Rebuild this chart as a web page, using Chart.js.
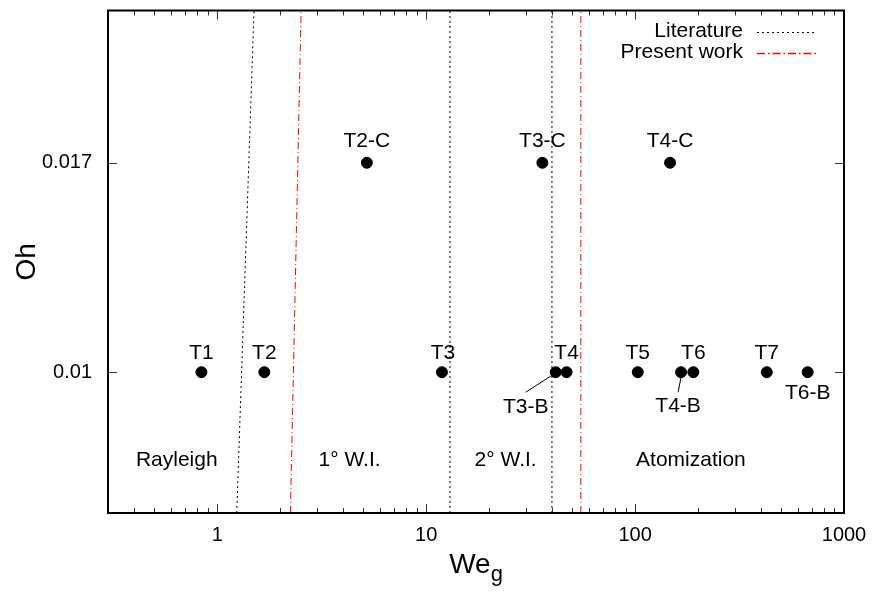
<!DOCTYPE html>
<html>
<head>
<meta charset="utf-8">
<script src="https://cdn.jsdelivr.net/npm/chart.js@4.4.1/dist/chart.umd.min.js"></script>
<style>
  html, body { margin: 0; padding: 0; background: #fff; }
  canvas { display: block; }
</style>
</head>
<body>
<canvas id="regime" width="874" height="593"></canvas>
<script>
// Test cases: gas Weber number and Ohnesorge number
const caseNames = ['T1', 'T2', 'T3', 'T4', 'T5', 'T6', 'T7', 'T2-C', 'T3-C', 'T4-C', 'T3-B', 'T4-B', 'T6-B'];
const caseWe    = [0.84, 1.68, 11.9, 47, 103, 190, 427, 5.2, 36, 147, 41.7, 166, 670];
const caseOh    = [0.01, 0.01, 0.01, 0.01, 0.01, 0.01, 0.01, 0.017, 0.017, 0.017, 0.01, 0.01, 0.01];

// Regime boundaries (Oh spans the full axis range)
const ohRange = [0.007, 0.025];
const literatureRayleighWe = [1.24, 1.50];
const literatureFirstWiWe = 13;
const literatureSecondWiWe = 40;
const presentRayleighWe = [2.24, 2.52];
const presentAtomizationWe = 55;

// Regime names
const regionNames = ['Rayleigh', '1° W.I.', '2° W.I.', 'Atomization'];
const regionWe = [0.64, 4.3, 24, 185];
const regionOh = [0.008, 0.008, 0.008, 0.008];

// Axis ticks
const xTickValues = [1, 10, 100, 1000];
const yTickValues = [0.01, 0.017];
const yTickLabels = ['0.01', '0.017'];

const FONT = '"Liberation Sans", Arial, Helvetica, sans-serif';

const LIT_COLOR = '#000000';
const LIT_DASH = [2, 3];
const PRES_COLOR = '#ff0000';
const PRES_DASH = [7, 3, 1, 3];

function vline(we) {
  return [{ x: we, y: ohRange[0] }, { x: we, y: ohRange[1] }];
}
function sline(pair) {
  return [{ x: pair[0], y: ohRange[0] }, { x: pair[1], y: ohRange[1] }];
}
function boundary(label, data, color, dash) {
  return { label, data, borderColor: color, borderWidth: 1, borderDash: dash.slice(),
           showLine: true, pointRadius: 0, fill: false };
}

const datasets = [
  boundary('Literature', sline(literatureRayleighWe), LIT_COLOR, LIT_DASH),
  boundary('Literature', vline(literatureFirstWiWe), LIT_COLOR, LIT_DASH),
  boundary('Literature', vline(literatureSecondWiWe), LIT_COLOR, LIT_DASH),
  boundary('Present work', sline(presentRayleighWe), PRES_COLOR, PRES_DASH),
  boundary('Present work', vline(presentAtomizationWe), PRES_COLOR, PRES_DASH),
  {
    label: 'cases',
    data: caseWe.map((w, i) => ({ x: w, y: caseOh[i] })),
    backgroundColor: '#000',
    borderColor: '#000',
    pointRadius: 5.5,
    pointHoverRadius: 5.5,
    showLine: false
  }
];

// Where each case label sits relative to its marker (pixels), and optional leader line
const labelPlacement = {
  'T1': [0, -19], 'T2': [0, -19], 'T3': [1, -19], 'T4': [0, -19], 'T5': [0, -19],
  'T6': [0, -19], 'T7': [0, -19],
  'T2-C': [0, -22], 'T3-C': [0, -22], 'T4-C': [0, -22],
  'T3-B': [-30, 35, [-30, 20], [-2, 2]],
  'T4-B': [-3, 34, [-3, 20], [0, 5]],
  'T6-B': [0, 21]
};

const decorations = {
  id: 'decorations',
  afterDraw(chart) {
    const ctx = chart.ctx;
    const a = chart.chartArea;
    const xs = chart.scales.x, ys = chart.scales.y;
    ctx.save();

    // inward ticks on all four sides
    ctx.strokeStyle = '#333';
    ctx.lineWidth = 1;
    ctx.beginPath();
    for (let d = -1; d <= 3; d++) {
      for (let k = 1; k <= 9; k++) {
        const v = k * Math.pow(10, d);
        if (v < xs.min - 1e-9 || v > xs.max + 1e-9) continue;
        const px = Math.round(xs.getPixelForValue(v)) + 0.5;
        const len = k === 1 ? 9 : 5;
        ctx.moveTo(px, a.bottom); ctx.lineTo(px, a.bottom - len);
        ctx.moveTo(px, a.top); ctx.lineTo(px, a.top + len);
      }
    }
    yTickValues.forEach(v => {
      const py = Math.round(ys.getPixelForValue(v)) + 0.5;
      ctx.moveTo(a.left, py); ctx.lineTo(a.left + 9, py);
      ctx.moveTo(a.right, py); ctx.lineTo(a.right - 9, py);
    });
    ctx.stroke();

    // frame
    ctx.strokeStyle = '#000';
    ctx.lineWidth = 2;
    ctx.strokeRect(a.left, a.top, a.right - a.left, a.bottom - a.top);

    // case labels
    ctx.fillStyle = '#000';
    ctx.font = '21px ' + FONT;
    ctx.textAlign = 'center';
    ctx.textBaseline = 'middle';
    const meta = chart.getDatasetMeta(5);
    meta.data.forEach((pt, i) => {
      const name = caseNames[i];
      const p = labelPlacement[name];
      ctx.fillText(name, pt.x + p[0], pt.y + p[1]);
      if (p[2]) {
        ctx.strokeStyle = '#000';
        ctx.lineWidth = 1;
        ctx.beginPath();
        ctx.moveTo(pt.x + p[2][0], pt.y + p[2][1]);
        ctx.lineTo(pt.x + p[3][0], pt.y + p[3][1]);
        ctx.stroke();
      }
    });

    // regime names
    regionNames.forEach((n, i) => {
      ctx.fillText(n, xs.getPixelForValue(regionWe[i]), ys.getPixelForValue(regionOh[i]));
    });

    // legend (top right, text right-aligned, sample to its right)
    const legendItems = [
      { text: 'Literature', color: LIT_COLOR, dash: LIT_DASH, width: 1 },
      { text: 'Present work', color: PRES_COLOR, dash: [8, 3, 1.5, 3], width: 1.5 }
    ];
    ctx.textAlign = 'right';
    legendItems.forEach((it, i) => {
      const y = a.top + 21 + i * 21;
      ctx.fillStyle = '#000';
      ctx.fillText(it.text, a.right - 101, y);
      ctx.save();
      ctx.strokeStyle = it.color;
      ctx.lineWidth = it.width;
      ctx.setLineDash(it.dash);
      ctx.beginPath();
      ctx.moveTo(a.right - 87, Math.round(y) + 0.5);
      ctx.lineTo(a.right - 27, Math.round(y) + 0.5);
      ctx.stroke();
      ctx.restore();
    });

    // axis titles
    ctx.fillStyle = '#000';
    ctx.textBaseline = 'alphabetic';
    ctx.textAlign = 'left';
    const cx = (a.left + a.right) / 2;
    ctx.font = '28px ' + FONT;
    const wWe = ctx.measureText('We').width;
    ctx.font = '22px ' + FONT;
    const wg = ctx.measureText('g').width;
    const x0 = cx - (wWe + wg) / 2;
    ctx.font = '28px ' + FONT;
    ctx.fillText('We', x0, 573);
    ctx.font = '22px ' + FONT;
    ctx.fillText('g', x0 + wWe, 581);

    ctx.translate(27, (a.top + a.bottom) / 2);
    ctx.rotate(-Math.PI / 2);
    ctx.textAlign = 'center';
    ctx.textBaseline = 'middle';
    ctx.font = '28px ' + FONT;
    ctx.fillText('Oh', 0, 0);
    ctx.restore();
  }
};

new Chart(document.getElementById('regime'), {
  type: 'scatter',
  data: { datasets },
  options: {
    responsive: false,
    animation: false,
    devicePixelRatio: 1,
    events: [],
    layout: { padding: { left: 0, right: 30, top: 10.5, bottom: 0 } },
    plugins: { legend: { display: false }, tooltip: { enabled: false } },
    scales: {
      x: {
        type: 'logarithmic',
        min: 0.3,
        max: 1000,
        grid: { display: false, drawTicks: false },
        border: { display: false },
        afterBuildTicks: s => { s.ticks = xTickValues.map(v => ({ value: v })); },
        afterFit: s => { s.height = 80; s.paddingLeft = 0; s.paddingRight = 0; },
        ticks: {
          autoSkip: false, maxRotation: 0, padding: 10, color: '#000',
          font: { family: FONT, size: 20 },
          callback: v => String(v)
        }
      },
      y: {
        type: 'logarithmic',
        min: ohRange[0],
        max: ohRange[1],
        grid: { display: false, drawTicks: false },
        border: { display: false },
        afterBuildTicks: s => { s.ticks = yTickValues.map(v => ({ value: v })); },
        afterFit: s => { s.width = 108; s.paddingTop = 0; s.paddingBottom = 0; },
        ticks: {
          autoSkip: false, padding: 16, color: '#000',
          font: { family: FONT, size: 20 },
          callback: v => yTickLabels[yTickValues.indexOf(v)] ?? ''
        }
      }
    }
  },
  plugins: [decorations]
});
</script>
</body>
</html>
